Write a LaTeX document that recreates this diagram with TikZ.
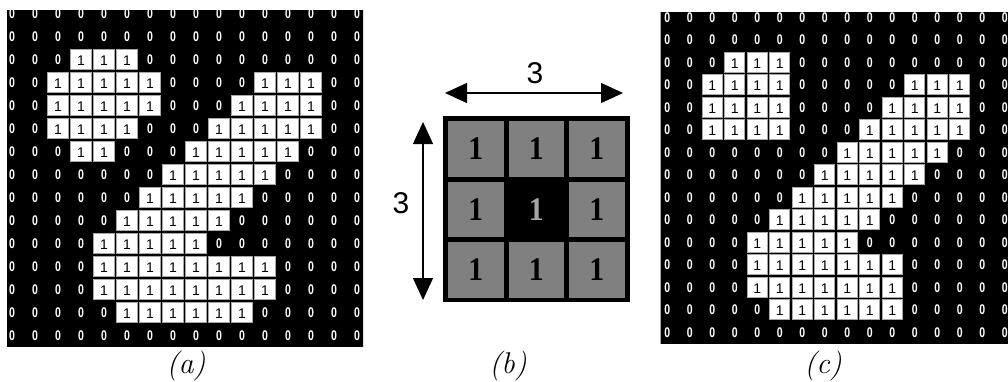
\documentclass[tikz,border=0pt]{standalone}
\usepackage{fontspec}
\usetikzlibrary{arrows.meta}
\newfontfamily\pixfont{Liberation Sans}
\newfontfamily\kernfont{Liberation Serif}

\newcommand{\blackgrid}[1]{%
  \fill[black] (0,0) rectangle (16,15);
  \foreach \c in {1,...,16}
    \foreach \r in {1,...,15}
      \node[zero] (#1-\c-\r) at (\c-0.5,\r-0.5) {0};}
\newcommand{\onecell}[3]{%
  \fill[white] (#2-0.95,#3-0.95) rectangle (#2-0.05,#3-0.05);
  \draw[gray!70,line width=1pt] (#2-0.95,#3-0.95) rectangle (#2-0.05,#3-0.05);
  \node[one] (#1-#2-#3) at (#2-0.5,#3-0.45) {1};}
\newcommand{\onerun}[4]{%
  \foreach \cc in {#3,...,#4}{\onecell{#1}{\cc}{#2}}}

\begin{document}
\begin{tikzpicture}[x=1pt,y=-1pt,
    zero/.style={text=white,font=\pixfont\bfseries\fontsize{14}{14}\selectfont,inner sep=0pt,xscale=0.75},
    one/.style={text=black,font=\pixfont\fontsize{14}{14}\selectfont,inner sep=0pt},
    kone/.style={text=black,font=\kernfont\bfseries\fontsize{33}{33}\selectfont,inner sep=0pt,xscale=0.9},
    dimlabel/.style={font=\pixfont\fontsize{30}{30}\selectfont,inner sep=0pt},
    dim/.style={line width=1.3pt,{Triangle[length=22pt,width=20pt]}-{Triangle[length=22pt,width=20pt]}},
    subcap/.style={font=\fontsize{30}{32}\selectfont\itshape,inner sep=0pt}]
  \useasboundingbox (0,0) rectangle (1008,381);
  % (a) input image
  \begin{scope}
    \clip (7,10) rectangle (363,347);
    \begin{scope}[shift={(0.5,2)},x=23pt,y=-23pt]
      \blackgrid{a}
      \foreach \r/\ca/\cb in {3/4/6,4/3/7,4/12/14,5/3/7,5/11/14,6/3/6,6/10/14,%
        7/4/5,7/9/13,8/8/12,9/7/11,10/6/10,11/5/9,12/5/12,13/5/12,14/6/11}{\onerun{a}{\r}{\ca}{\cb}}
    \end{scope}
  \end{scope}
  % (b) 3x3 structuring element
  \fill[black] (443,116) rectangle (630,302);
  \foreach \i in {0,1,2}
    \foreach \j in {0,1,2}{
      \fill[gray] (448+60.5*\i,121+60.5*\j) rectangle ++(55.5,55.5);
      \node[kone] (k-\i-\j) at (475.75+60.5*\i,148.75+60.5*\j) {1};}
  \fill[black] (508.5,181.5) rectangle ++(55.5,55.5);
  \node[kone,text=gray!70] (k-1-1) at (536.25,209.25) {1};
  \coordinate (hl) at (445,93);
  \coordinate (hr) at (623,93);
  \draw[dim] (hl) -- (hr);
  \node[dimlabel] (hlab) at (535,73) {3};
  \coordinate (vt) at (423,122);
  \coordinate (vb) at (423,300);
  \draw[dim] (vt) -- (vb);
  \node[dimlabel] (vlab) at (401,203) {3};
  % (c) result
  \begin{scope}
    \clip (660.7,12) rectangle (1008,344);
    \begin{scope}[shift={(656,6)},x=22.5pt,y=-22.5pt]
      \blackgrid{c}
      \foreach \r/\ca/\cb in {3/4/6,4/3/6,4/12/14,5/3/6,5/11/14,6/3/6,6/10/14,%
        7/9/13,8/8/12,9/7/11,10/6/10,11/5/9,12/5/11,13/5/11,14/6/11}{\onerun{c}{\r}{\ca}{\cb}}
    \end{scope}
  \end{scope}
  \node[subcap] (capa) at (186,366) {(a)};
  \node[subcap] (capb) at (508,366) {(b)};
  \node[subcap] (capc) at (823,366) {(c)};
\end{tikzpicture}
\end{document}
